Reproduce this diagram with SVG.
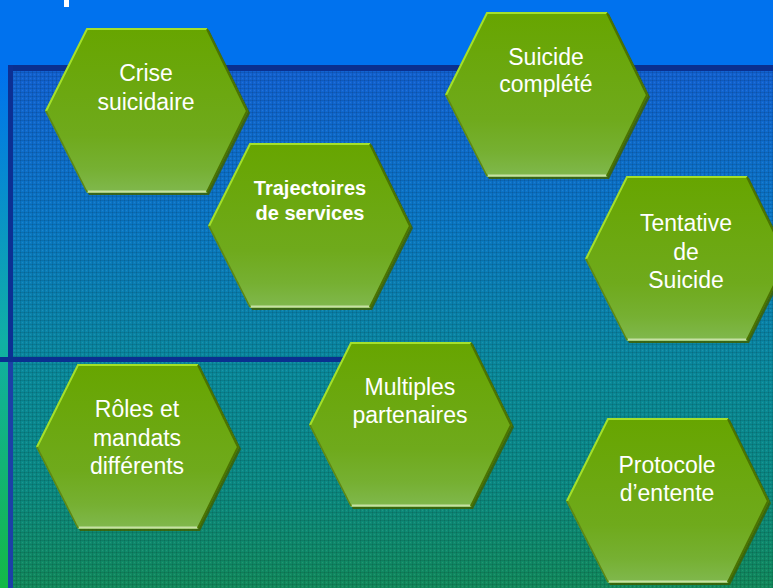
<svg xmlns="http://www.w3.org/2000/svg" xmlns:xlink="http://www.w3.org/1999/xlink" width="773" height="588" viewBox="0 0 773 588">
  <style>
    .lbl { font-family: "Liberation Sans", Arial, sans-serif; font-size: 23px; fill: #ffffff; text-anchor: middle; }
    .bold { font-weight: bold; font-size: 20px; }
  </style>
  <defs>
    <linearGradient id="bgGrad" x1="0" y1="0" x2="0" y2="588" gradientUnits="userSpaceOnUse">
      <stop offset="0" stop-color="#0072ee"/>
      <stop offset="0.12" stop-color="#0072ee"/>
      <stop offset="0.58" stop-color="#10b0a4"/>
      <stop offset="1" stop-color="#14b846"/>
    </linearGradient>
    <linearGradient id="panelGrad" x1="0" y1="71" x2="0" y2="588" gradientUnits="userSpaceOnUse">
      <stop offset="0" stop-color="#1262d2"/>
      <stop offset="0.3" stop-color="#0a78c4"/>
      <stop offset="0.58" stop-color="#0a8a9c"/>
      <stop offset="0.8" stop-color="#0b8a84"/>
      <stop offset="1" stop-color="#128a5c"/>
    </linearGradient>
    <pattern id="dots" x="0" y="0" width="4" height="4" patternUnits="userSpaceOnUse">
      <rect x="0" y="0" width="4" height="1" fill="#000000" fill-opacity="0.10"/>
      <rect x="0" y="0" width="1" height="4" fill="#000000" fill-opacity="0.10"/>
      <rect x="2" y="2" width="1" height="1" fill="#ffffff" fill-opacity="0.08"/>
    </pattern>
    <linearGradient id="green" x1="0" y1="0" x2="0" y2="1">
      <stop offset="0" stop-color="#67a500"/>
      <stop offset="0.65" stop-color="#6faa1c"/>
      <stop offset="0.85" stop-color="#76b032"/>
      <stop offset="1" stop-color="#80b84e"/>
    </linearGradient>
    <path id="hexPath" d="M42,0 H162 L203,83 L162,165 H42 L0,83 Z"/>
    <g id="hex">
      <use xlink:href="#hexPath" transform="translate(2,2)" fill="#3f6200" fill-opacity="0.85"/>
      <use xlink:href="#hexPath" fill="url(#green)"/>
      <polyline points="1,83 42,1 162,1" fill="none" stroke="#a4e02a" stroke-width="2"/>
      <polyline points="162,1 202,83 162,164" fill="none" stroke="#4b7300" stroke-width="2"/>
      <polyline points="1,83 42,164" fill="none" stroke="#5c8614" stroke-width="1.5"/>
      <line x1="43" y1="163.5" x2="161" y2="163.5" stroke="#c6e0a4" stroke-width="2"/>
    </g>
  </defs>

  <!-- background -->
  <rect x="0" y="0" width="773" height="588" fill="url(#bgGrad)"/>
  <rect x="13" y="71" width="760" height="517" fill="url(#panelGrad)"/>
  <rect x="13" y="71" width="760" height="517" fill="url(#dots)"/>
  <rect x="8" y="65" width="765" height="6" fill="#0a3090"/>
  <rect x="8" y="65" width="5" height="293" fill="#0c3094"/>
  <rect x="8" y="358" width="5" height="230" fill="#1c40a8"/>
  <rect x="0" y="357" width="345" height="5" fill="#0a3090"/>
  <rect x="64" y="0" width="5" height="7" fill="#ffffff"/>

  <g id="connectors"/>

  <g id="node-crise">
    <use xlink:href="#hex" x="45" y="28"/>
    <text class="lbl" x="146" y="81">Crise</text>
    <text class="lbl" x="146" y="110">suicidaire</text>
  </g>

  <g id="node-suicide-complete">
    <use xlink:href="#hex" x="445" y="12"/>
    <text class="lbl" x="546" y="65">Suicide</text>
    <text class="lbl" x="546" y="92">complété</text>
  </g>

  <g id="node-trajectoires">
    <use xlink:href="#hex" x="208" y="143"/>
    <text class="lbl bold" x="310" y="195">Trajectoires</text>
    <text class="lbl bold" x="310" y="220">de services</text>
  </g>

  <g id="node-tentative">
    <use xlink:href="#hex" x="585" y="176"/>
    <text class="lbl" x="686" y="231">Tentative</text>
    <text class="lbl" x="686" y="260">de</text>
    <text class="lbl" x="686" y="288">Suicide</text>
  </g>

  <g id="node-multiples">
    <use xlink:href="#hex" x="309" y="342"/>
    <text class="lbl" x="410" y="395">Multiples</text>
    <text class="lbl" x="410" y="423">partenaires</text>
  </g>

  <g id="node-roles">
    <use xlink:href="#hex" x="36" y="364"/>
    <text class="lbl" x="137" y="417">Rôles et</text>
    <text class="lbl" x="137" y="446">mandats</text>
    <text class="lbl" x="137" y="474">différents</text>
  </g>

  <g id="node-protocole">
    <use xlink:href="#hex" x="566" y="418"/>
    <text class="lbl" x="667" y="473">Protocole</text>
    <text class="lbl" x="667" y="501">d’entente</text>
  </g>
</svg>
